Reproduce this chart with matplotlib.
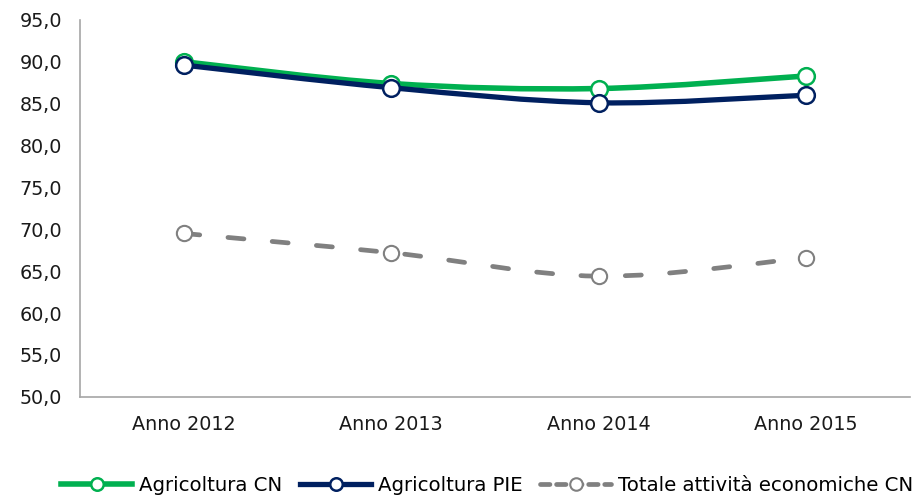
import numpy as np
import matplotlib
matplotlib.use("Agg")
import matplotlib.pyplot as plt
from matplotlib.path import Path
from matplotlib.patches import PathPatch
from matplotlib.lines import Line2D
from matplotlib.ticker import FuncFormatter, MultipleLocator

years = ["Anno 2012", "Anno 2013", "Anno 2014", "Anno 2015"]
agri_cn = [90.0, 87.4, 86.8, 88.3]
agri_pie = [89.6, 86.9, 85.1, 86.0]
totale_cn = [69.5, 67.2, 64.4, 66.6]

labels = ["Agricoltura CN", "Agricoltura PIE", "Totale attività economiche CN"]
colors = ["#00B050", "#002060", "#808080"]


def smooth_path(xs, ys):
    # catmull-rom style bezier, like excel "smoothed line"
    pts = np.column_stack([xs, ys]).astype(float)
    verts = [pts[0]]
    codes = [Path.MOVETO]
    n = len(pts)
    for i in range(n - 1):
        p0 = pts[i - 1] if i > 0 else pts[i]
        p1 = pts[i]
        p2 = pts[i + 1]
        p3 = pts[i + 2] if i + 2 < n else pts[i + 1]
        c1 = p1 + (p2 - p0) / 6.0
        c2 = p2 - (p3 - p1) / 6.0
        verts += [c1, c2, p2]
        codes += [Path.CURVE4] * 3
    return Path(verts, codes)


fig = plt.figure(figsize=(9.23, 4.96), dpi=100)
ax = fig.add_axes([0.0867, 0.200, 0.899, 0.760])

x = np.arange(len(years))

# grey dashed series
ax.add_patch(PathPatch(smooth_path(x, totale_cn), fill=False, edgecolor=colors[2],
                       lw=3.4, linestyle=(0, (3.4, 6.0)), capstyle="round", zorder=2))
ax.plot(x, totale_cn, ls="none", marker="o", ms=11, mfc="white", mec=colors[2], mew=1.5, zorder=3)

ax.add_patch(PathPatch(smooth_path(x, agri_cn), fill=False, edgecolor=colors[0],
                       lw=4.0, capstyle="round", zorder=4))
ax.plot(x, agri_cn, ls="none", marker="o", ms=12, mfc="white", mec=colors[0], mew=1.8, zorder=5)

ax.add_patch(PathPatch(smooth_path(x, agri_pie), fill=False, edgecolor=colors[1],
                       lw=3.8, capstyle="round", zorder=6))
ax.plot(x, agri_pie, ls="none", marker="o", ms=12, mfc="white", mec=colors[1], mew=1.8, zorder=7)

ax.set_xlim(-0.5, 3.5)
ax.set_ylim(50, 95)
ax.yaxis.set_major_locator(MultipleLocator(5))
ax.yaxis.set_major_formatter(FuncFormatter(lambda v, p: f"{v:.1f}".replace(".", ",")))
ax.set_xticks(x)
ax.set_xticklabels(years)

for s in ["top", "right"]:
    ax.spines[s].set_visible(False)
for s in ["left", "bottom"]:
    ax.spines[s].set_color("#A6A6A6")
    ax.spines[s].set_linewidth(1.2)
ax.tick_params(axis="both", length=0, labelsize=13.8, colors="#1a1a1a")
ax.tick_params(axis="y", pad=13)
ax.tick_params(axis="x", pad=13)

handles = [
    Line2D([], [], color=colors[0], lw=4.0, marker="o", ms=9, mfc="white", mec=colors[0], mew=1.8),
    Line2D([], [], color=colors[1], lw=3.8, marker="o", ms=9, mfc="white", mec=colors[1], mew=1.8),
    Line2D([], [], color=colors[2], lw=3.4, ls=(0, (2.0, 1.4)), dash_capstyle="round",
           marker="o", ms=9, mfc="white", mec=colors[2], mew=1.5),
]
fig.legend(handles, labels, loc="center", bbox_to_anchor=(0.528, 0.022), ncol=3,
           frameon=False, fontsize=14.2, handlelength=3.6, handletextpad=0.35,
           columnspacing=0.9, numpoints=1)

fig.savefig("out.png", dpi=100)
